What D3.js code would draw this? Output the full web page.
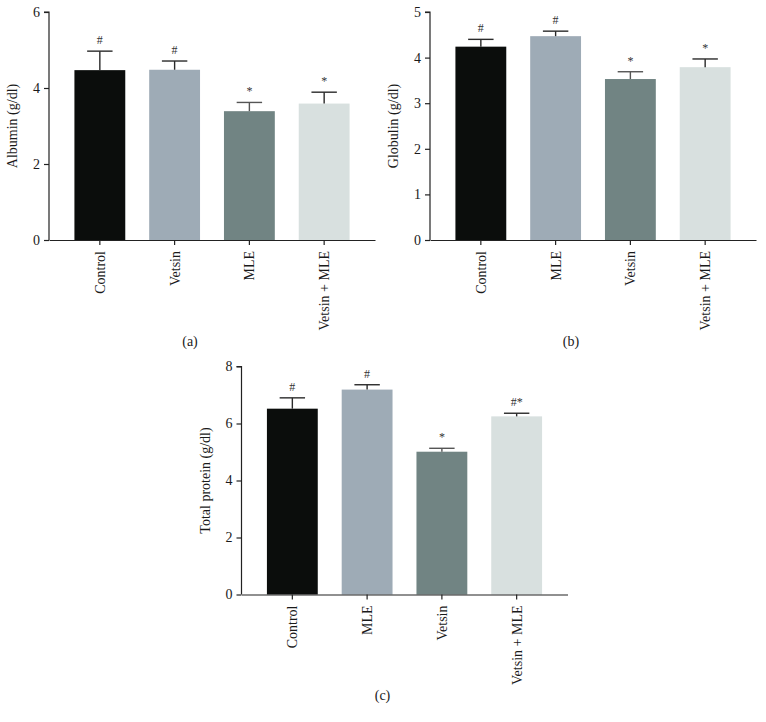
<!DOCTYPE html>
<html>
<head>
<meta charset="utf-8">
<script src="https://cdn.jsdelivr.net/npm/d3@7"></script>
<style>
  body { margin: 0; background: #fff; }
  svg { font-family: "Liberation Serif", "DejaVu Serif", serif; }
  svg text { font-family: "Liberation Serif", "DejaVu Serif", serif; fill: #1a1a1a; }
</style>
</head>
<body>
<svg width="766" height="722"></svg>
<script>
// bar colours go by position, not by group
const barColors = ["#0b0d0c", "#9eabb6", "#718483", "#d8e0df"];

// (a) albumin
const groupsA = ["Control", "Vetsin", "MLE", "Vetsin + MLE"];
const meansA = [4.47, 4.48, 3.39, 3.59];
const errA = [0.50, 0.23, 0.23, 0.30];
const sigA = ["#", "#", "*", "*"];
const ticksA = [0, 2, 4, 6];

// (b) globulin
const groupsB = ["Control", "MLE", "Vetsin", "Vetsin + MLE"];
const meansB = [4.24, 4.47, 3.53, 3.79];
const errB = [0.16, 0.11, 0.16, 0.18];
const sigB = ["#", "#", "*", "*"];
const ticksB = [0, 1, 2, 3, 4, 5];

// (c) total protein
const groupsC = ["Control", "MLE", "Vetsin", "Vetsin + MLE"];
const meansC = [6.52, 7.19, 5.01, 6.25];
const errC = [0.38, 0.17, 0.12, 0.11];
const sigC = ["#", "#", "*", "#*"];
const ticksC = [0, 2, 4, 6, 8];

const svg = d3.select("svg");

const panels = [
  { groups: groupsA, means: meansA, err: errA, sig: sigA, ticks: ticksA, max: 6,
    x0: 49, top: 12, bottom: 240, ylabel: "Albumin (g/dl)", tag: "(a)", tagY: 346 },
  { groups: groupsB, means: meansB, err: errB, sig: sigB, ticks: ticksB, max: 5,
    x0: 430, top: 12, bottom: 240, ylabel: "Globulin (g/dl)", tag: "(b)", tagY: 346 },
  { groups: groupsC, means: meansC, err: errC, sig: sigC, ticks: ticksC, max: 8,
    x0: 241.5, top: 366.5, bottom: 594.5, ylabel: "Total protein (g/dl)", tag: "(c)", tagY: 700 }
];

panels.forEach(drawPanel);

function drawPanel(p) {
  const g = svg.append("g");
  const w = 326;

  const x = d3.scaleBand()
    .domain(p.groups)
    .range([p.x0, p.x0 + w])
    .paddingInner(0.32)
    .paddingOuter(0.34);

  const y = d3.scaleLinear()
    .domain([0, p.max])
    .range([p.bottom, p.top]);

  const rows = p.groups.map((k, i) => ({ k: k, v: p.means[i], e: p.err[i], s: p.sig[i], c: barColors[i] }));

  /* ----------- bars ----------- */
  g.selectAll("rect.bar").data(rows)
    .enter().append("rect")
    .attr("class", "bar")
    .attr("x", d => x(d.k))
    .attr("width", x.bandwidth())
    .attr("y", d => y(d.v))
    .attr("height", d => y(0) - y(d.v))
    .attr("fill", d => d.c);

  /* ----------- error bars ----------- */
  const eb = g.selectAll("g.err").data(rows)
    .enter().append("g")
    .attr("class", "err")
    .attr("stroke", (d, i) => i == 2 ? "#555" : "#2a2a2a")
    .attr("stroke-width", 1.4);

  eb.append("line")
    .attr("x1", d => x(d.k) + x.bandwidth() / 2)
    .attr("x2", d => x(d.k) + x.bandwidth() / 2)
    .attr("y1", d => y(d.v))
    .attr("y2", d => y(d.v + d.e));

  eb.append("line")
    .attr("x1", d => x(d.k) + x.bandwidth() / 4)
    .attr("x2", d => x(d.k) + x.bandwidth() * 3 / 4)
    .attr("y1", d => y(d.v + d.e))
    .attr("y2", d => y(d.v + d.e));

  /* ----------- significance marks ----------- */
  g.selectAll("text.sig").data(rows)
    .enter().append("text")
    .attr("class", "sig")
    .attr("x", d => x(d.k) + x.bandwidth() / 2)
    .attr("y", d => y(d.v + d.e) - 7)
    .attr("text-anchor", "middle")
    .style("font-size", "12px")
    .style("fill", "#333")
    .text(d => d.s);

  /* ----------- axes ----------- */
  const yAxis = g.append("g")
    .attr("transform", `translate(${p.x0},0)`)
    .call(d3.axisLeft(y).tickValues(p.ticks).tickSize(5).tickPadding(4).tickFormat(d3.format("d")));

  const xAxis = g.append("g")
    .attr("transform", `translate(0,${p.bottom})`)
    .call(d3.axisBottom(x).tickSize(5).tickSizeOuter(0).tickPadding(6));

  [yAxis, xAxis].forEach(a => {
    a.attr("font-family", null).attr("font-size", null);
    a.select(".domain").attr("stroke", "#222").attr("stroke-width", 1.2);
    a.selectAll(".tick line").attr("stroke", "#222").attr("stroke-width", 1.2);
    a.selectAll("text").style("font-size", "14px").attr("fill", "#1a1a1a");
  });
  yAxis.select(".domain").attr("d", `M-5,${y(p.max)}H0V${p.bottom}`);

  xAxis.selectAll(".tick text")
    .attr("transform", "rotate(-90)")
    .attr("text-anchor", "end")
    .attr("x", -11)
    .attr("y", 0)
    .attr("dy", "0.35em");

  g.append("text")
    .attr("transform", `translate(${p.x0 - 32},${(p.top + p.bottom) / 2}) rotate(-90)`)
    .attr("text-anchor", "middle")
    .style("font-size", "14px")
    .text(p.ylabel);

  g.append("text")
    .attr("x", p.x0 + w / 2 - 22)
    .attr("y", p.tagY)
    .attr("text-anchor", "middle")
    .style("font-size", "14px")
    .text(p.tag);
}
</script>
</body>
</html>
